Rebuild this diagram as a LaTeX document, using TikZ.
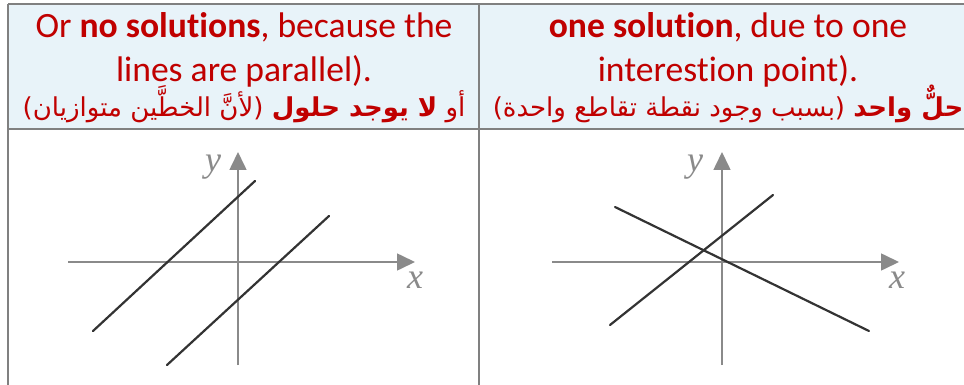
\documentclass[tikz,border=0pt]{standalone}
\usepackage{fontspec}
\setmainfont[Ligatures=NoCommon]{Carlito}
\newfontfamily\arabicfont[Script=Arabic]{DejaVu Sans}
\newfontfamily\labelfont{Liberation Serif}
\TeXXeTstate=1
\usetikzlibrary{arrows.meta}
\definecolor{headred}{HTML}{C00000}
\definecolor{headblue}{HTML}{E8F3F9}
\definecolor{rulegray}{HTML}{808080}
\definecolor{axisgray}{HTML}{8A8A8A}
\definecolor{linegray}{HTML}{333333}

\begin{document}
\begin{tikzpicture}[
  x=0.5pt, y=-0.5pt,
  eng/.style={anchor=base, text=headred, inner sep=0pt,
              font=\fontsize{17.8}{21}\selectfont},
  arab/.style={anchor=base, text=headred, inner sep=0pt,
               font=\arabicfont\fontsize{13}{16}\selectfont},
  cellrule/.style={draw=rulegray, line width=1pt},
  axis/.style={draw=axisgray, line width=0.8pt,
               -{Triangle[length=9pt, width=8.5pt]}},
  graphline/.style={draw=linegray, line width=1.1pt, line cap=round},
  axlabel/.style={text=axisgray, inner sep=0pt,
                  font=\labelfont\itshape\fontsize{18}{18}\selectfont},
]
\useasboundingbox (0,0) rectangle (964,385);

% table
\fill[headblue] (8,4) rectangle (964,129);
\draw[cellrule] (8,4) -- (964,4);
\draw[cellrule] (8,129) -- (964,129);
\draw[cellrule] (8,4) -- (8,385);
\draw[cellrule] (479,4) -- (479,385);

% header, left cell
\node[eng] (left1) at (244,38) {Or \textbf{no solutions}, because the};
\node[eng] (left2) at (244,82) {lines are parallel).};
\node[arab] (leftar) at (244,117)
  {\beginR أو \textbf{لا يوجد حلول} (لأنَّ الخطَّين متوازيان)\endR};

% header, right cell
\node[eng] (right1) at (728,38) {\textbf{one solution}, due to one};
\node[eng] (right2) at (728,82) {interestion point).};
\node[arab] (rightar) at (728,117)
  {\beginR\textbf{حلٌّ واحد} (بسبب وجود نقطة تقاطع واحدة)\endR};

% left graph: parallel lines
\coordinate (lxs) at (68,262);
\coordinate (lxe) at (415,262);
\coordinate (lys) at (238,365);
\coordinate (lye) at (238,152);
\draw[axis] (lxs) -- (lxe);
\draw[axis] (lys) -- (lye);
\node[axlabel] (lylab) at (213,167) {y};
\node[axlabel] (lxlab) at (415,280) {x};
\draw[graphline] (93,331) -- (255,181);
\draw[graphline] (167,365) -- (329,216);

% right graph: crossing lines
\coordinate (rxs) at (552,262);
\coordinate (rxe) at (899,262);
\coordinate (rys) at (722,365);
\coordinate (rye) at (722,152);
\draw[axis] (rxs) -- (rxe);
\draw[axis] (rys) -- (rye);
\node[axlabel] (rylab) at (695,167) {y};
\node[axlabel] (rxlab) at (897,280) {x};
\draw[graphline] (610,325) -- (773,195);
\draw[graphline] (615,207) -- (869,331);

\end{tikzpicture}
\end{document}
